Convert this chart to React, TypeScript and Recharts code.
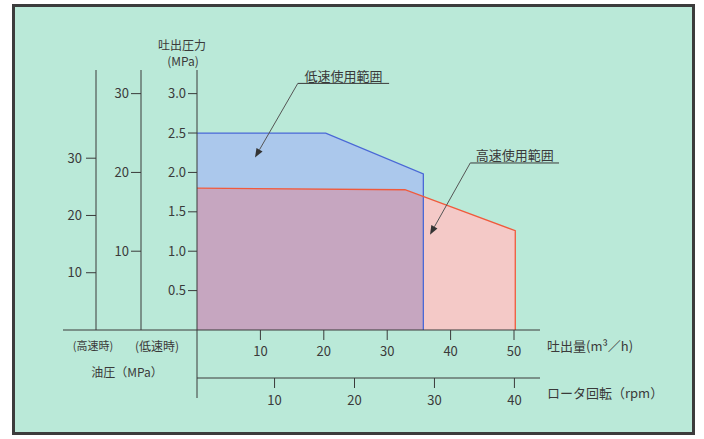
import React from 'react'
import { ComposedChart, Area, Line, XAxis, YAxis, ReferenceLine } from 'recharts'

// 吐出量 (m³/h) と 吐出圧力 (MPa)
const lowFlow = [0, 20.3, 35.7, 35.7]
const lowPressure = [2.5, 2.5, 1.98, 0]
const highFlow = [0, 32.8, 50.2, 50.2]
const highPressure = [1.8, 1.78, 1.26, 0]
const bothFlow = [0, 32.8, 35.7, 35.7]
const bothPressure = [1.8, 1.78, 1.69, 0]

const flowTicks = [10, 20, 30, 40, 50]
const rpmTicks = [10, 20, 30, 40]
const pressureTicks = [0.5, 1.0, 1.5, 2.0, 2.5, 3.0]
const oilLowTicks = [10, 20, 30]
const oilHighTicks = [10, 20, 30]

const toRows = (xs: number[], ys: number[]) => xs.map((x, i) => ({ flow: x, pressure: ys[i] }))

const lowRows = toRows(lowFlow, lowPressure)
const highRows = toRows(highFlow, highPressure)
const bothRows = toRows(bothFlow, bothPressure)
const rpmRows = rpmTicks.map((r) => ({ rpm: r }))

const FONT = '"Noto Sans CJK JP", "Noto Sans", sans-serif'
const INK = '#3a3a3a'

// 引き出し線 (data coordinates)
const callouts = [
  { text: '低速使用範囲', from: { x: 15.9, y: 3.13 }, to: { x: 30.3, y: 3.13 }, tip: { x: 9.15, y: 2.19 } },
  { text: '高速使用範囲', from: { x: 43.1, y: 2.12 }, to: { x: 57.1, y: 2.12 }, tip: { x: 36.75, y: 1.21 } },
]

const underline = (text: string) => (props: any) => {
  const { x1, y1, x2, y2 } = props
  return (
    <g>
      <line x1={x1} y1={y1} x2={x2} y2={y2} stroke={INK} strokeWidth={1} />
      <text x={(x1 + x2) / 2} y={y1 - 8} textAnchor="middle" dominantBaseline="central"
        fontFamily={FONT} fontSize={13} fill={INK}>{text}</text>
    </g>
  )
}

const arrow = (props: any) => {
  const { x1, y1, x2, y2 } = props
  const a = Math.atan2(y2 - y1, x2 - x1)
  const len = 9
  const w = 3.5
  const bx = x2 - len * Math.cos(a)
  const by = y2 - len * Math.sin(a)
  const px = -Math.sin(a) * w
  const py = Math.cos(a) * w
  return (
    <g>
      <line x1={x1} y1={y1} x2={bx} y2={by} stroke="#555" strokeWidth={1} />
      <polygon points={`${x2},${y2} ${bx + px},${by + py} ${bx - px},${by - py}`} fill="#333" />
    </g>
  )
}

const tickStyle = { fill: INK, fontSize: 13, fontFamily: FONT }
const axisLine = { stroke: INK, strokeWidth: 1 }

export default function App() {
  return (
    <div style={{ position: 'absolute', left: 0, top: 0, width: 704, height: 439, background: '#fff' }}>
      <div style={{
        position: 'absolute', left: 12, top: 4, width: 683, height: 431, boxSizing: 'border-box',
        border: '3px solid #3c3c3c', background: '#bae9d8',
      }} />
      <div style={{ position: 'absolute', left: 0, top: 0 }}>
        <ComposedChart width={704} height={439} data={rpmRows}
          margin={{ top: 70, right: 164, bottom: 31, left: 36 }}>
          <XAxis xAxisId="flow" type="number" dataKey="flow" domain={[0, 54.1]} ticks={flowTicks}
            allowDataOverflow tickSize={10} tickMargin={7} height={48} tick={tickStyle}
            axisLine={axisLine} tickLine={axisLine} />
          <XAxis xAxisId="rpm" type="number" dataKey="rpm" domain={[0.3, 43.2]} ticks={rpmTicks}
            allowDataOverflow tickSize={10} tickMargin={8} height={30} tick={tickStyle}
            axisLine={axisLine} tickLine={axisLine} />
          {/* p1: 吐出圧力, p2: 油圧(低速時), p3: 油圧(高速時) */}
          <YAxis yAxisId="p1" type="number" domain={[0, 3.3]} ticks={pressureTicks} allowDataOverflow
            width={56} tickSize={9} tickMargin={2} tick={tickStyle} axisLine={axisLine} tickLine={axisLine}
            tickFormatter={(v: number) => v.toFixed(1)} />
          <YAxis yAxisId="p2" type="number" domain={[0, 33]} ticks={oilLowTicks} allowDataOverflow
            width={45} tickSize={10} tickMargin={2} tick={tickStyle} axisLine={axisLine} tickLine={axisLine} />
          <YAxis yAxisId="p3" type="number" domain={[0, 45.4]} ticks={oilHighTicks} allowDataOverflow
            width={60} tickSize={10} tickMargin={4} tick={tickStyle} axisLine={axisLine} tickLine={axisLine} />

          <Area data={lowRows} xAxisId="flow" yAxisId="p1" dataKey="pressure" type="linear"
            fill="#abc8ec" fillOpacity={1} stroke="none" isAnimationActive={false} />
          <Area data={highRows} xAxisId="flow" yAxisId="p1" dataKey="pressure" type="linear"
            fill="#f4c9c7" fillOpacity={1} stroke="none" isAnimationActive={false} />
          <Area data={bothRows} xAxisId="flow" yAxisId="p1" dataKey="pressure" type="linear"
            fill="#c6a6c0" fillOpacity={1} stroke="none" isAnimationActive={false} />
          <Line data={lowRows} xAxisId="flow" yAxisId="p1" dataKey="pressure" type="linear"
            stroke="#4a68d6" strokeWidth={1.3} dot={false} activeDot={false} isAnimationActive={false} />
          <Line data={highRows} xAxisId="flow" yAxisId="p1" dataKey="pressure" type="linear"
            stroke="#f05a3c" strokeWidth={1.3} dot={false} activeDot={false} isAnimationActive={false} />

          {callouts.map((c) => (
            <ReferenceLine key={c.text + 'u'} xAxisId="flow" yAxisId="p1" segment={[c.from, c.to]}
              ifOverflow="visible" shape={underline(c.text)} />
          ))}
          {callouts.map((c) => (
            <ReferenceLine key={c.text + 'a'} xAxisId="flow" yAxisId="p1" segment={[c.from, c.tip]}
              ifOverflow="visible" shape={arrow} />
          ))}
        </ComposedChart>
      </div>
      <svg width={704} height={439} style={{ position: 'absolute', left: 0, top: 0, pointerEvents: 'none' }}
        fontFamily={FONT} fill={INK}>
        <line x1={63} y1={330} x2={197} y2={330} stroke={INK} />
        <line x1={197} y1={330} x2={197} y2={398} stroke={INK} />
        <text x={182} y={44} fontSize={12} textAnchor="middle" dominantBaseline="central">吐出圧力</text>
        <text x={183} y={60} fontSize={12} textAnchor="middle" dominantBaseline="central">(MPa)</text>
        <text x={93} y={345} fontSize={11} textAnchor="middle" dominantBaseline="central">(高速時)</text>
        <text x={157} y={345} fontSize={12} textAnchor="middle" dominantBaseline="central">(低速時)</text>
        <text x={127} y={371} fontSize={12} textAnchor="middle" dominantBaseline="central">油圧（MPa）</text>
        <text x={547} y={345} fontSize={13} dominantBaseline="central">吐出量(m³／h)</text>
        <text x={547} y={392} fontSize={13} dominantBaseline="central">ロータ回転（rpm）</text>
      </svg>
    </div>
  )
}
